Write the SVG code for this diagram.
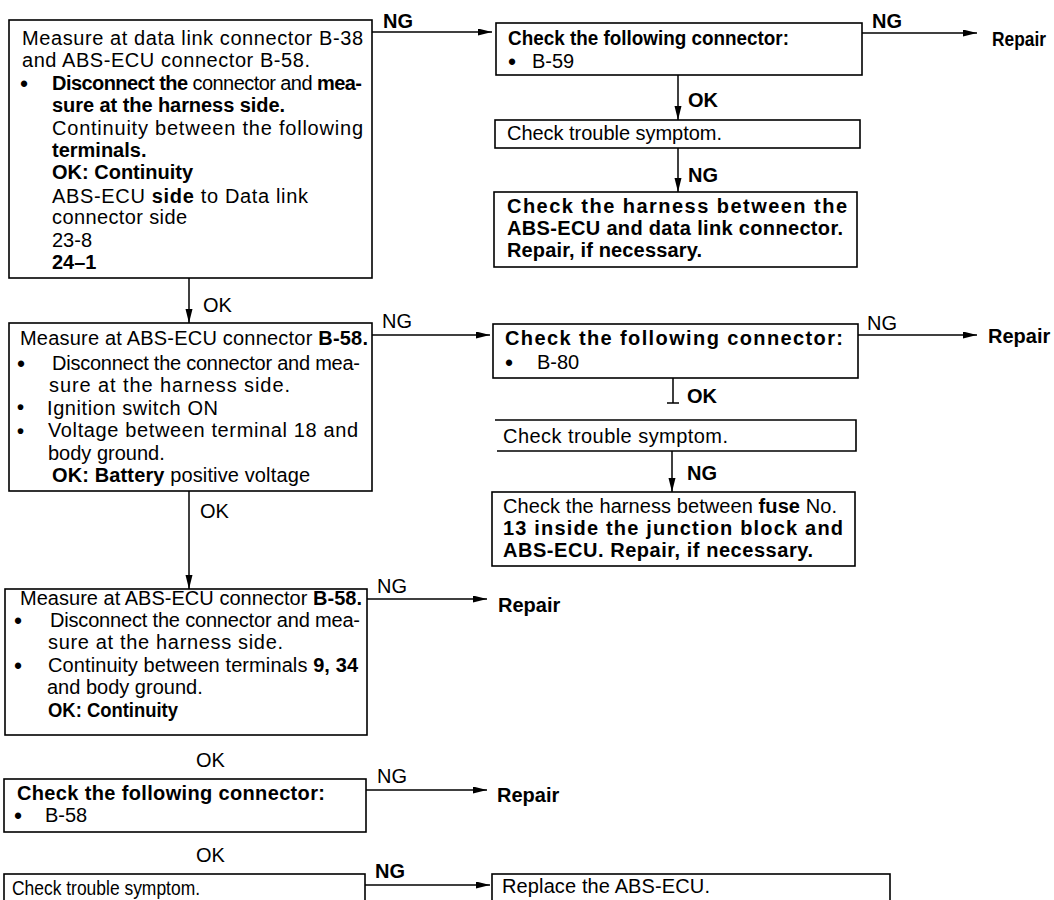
<svg xmlns="http://www.w3.org/2000/svg" width="1054" height="900" viewBox="0 0 1054 900">
<style>
.box{fill:none;stroke:#000;stroke-width:1.6}
.ln{fill:none;stroke:#000;stroke-width:1.5}
text{font-family:"Liberation Sans",Arial,Helvetica,sans-serif;font-size:20px;fill:#000}
.b{font-weight:bold}
.bu{font-size:23px}
.bs{font-size:20px;font-weight:bold}
</style>
<defs>
<marker id="ah" markerUnits="userSpaceOnUse" markerWidth="15" markerHeight="8" refX="14" refY="3.5" orient="auto">
<path d="M0,0 L14,3.5 L0,7 z" fill="#000"/>
</marker>
</defs>
<rect width="1054" height="900" fill="#fff"/>

<g id="connectors">
<line class="ln" x1="372" y1="32" x2="492" y2="32" marker-end="url(#ah)"/>
<line class="ln" x1="862" y1="33" x2="977" y2="33" marker-end="url(#ah)"/>
<line class="ln" x1="678" y1="75" x2="678" y2="120" marker-end="url(#ah)"/>
<line class="ln" x1="678" y1="148" x2="678" y2="192" marker-end="url(#ah)"/>
<line class="ln" x1="189" y1="278" x2="189" y2="323" marker-end="url(#ah)"/>
<line class="ln" x1="372" y1="335" x2="490" y2="335" marker-end="url(#ah)"/>
<line class="ln" x1="858" y1="335" x2="977" y2="335" marker-end="url(#ah)"/>
<path class="ln" d="M673,378 V403 M667,403 H679"/>
<line class="ln" x1="672" y1="451" x2="672" y2="492" marker-end="url(#ah)"/>
<line class="ln" x1="189" y1="491" x2="189" y2="589" marker-end="url(#ah)"/>
<line class="ln" x1="367" y1="599" x2="487" y2="599" marker-end="url(#ah)"/>
<line class="ln" x1="366" y1="790" x2="487" y2="790" marker-end="url(#ah)"/>
<line class="ln" x1="365" y1="885" x2="490" y2="885" marker-end="url(#ah)"/>
<text class="b" x="383" y="28">NG</text>
<text class="b" x="872" y="28">NG</text>
<text class="b" x="688" y="107">OK</text>
<text class="b" x="688" y="182">NG</text>
<text x="203" y="312">OK</text>
<text x="382" y="328">NG</text>
<text x="867" y="330">NG</text>
<text class="b" x="687" y="403">OK</text>
<text class="b" x="687" y="480">NG</text>
<text x="200" y="518">OK</text>
<text x="377" y="593">NG</text>
<text x="196" y="767">OK</text>
<text x="377" y="783">NG</text>
<text x="196" y="862">OK</text>
<text class="b" x="375" y="878">NG</text>
</g>

<g id="n1">
<rect class="box" x="9" y="20" width="363" height="258"/>
<text x="22" y="45" textLength="341" lengthAdjust="spacing">Measure at data link connector B-38</text>
<text x="22" y="67" textLength="288" lengthAdjust="spacing">and ABS-ECU connector B-58.</text>
<text class="bu" x="20" y="92">•</text>
<text x="52" y="90" textLength="310" lengthAdjust="spacing"><tspan class="b">Disconnect the</tspan> connector and <tspan class="b">mea-</tspan></text>
<text class="b" x="52" y="112" textLength="233" lengthAdjust="spacing">sure at the harness side.</text>
<text x="52" y="135" textLength="311" lengthAdjust="spacing">Continuity between the following</text>
<text class="b" x="52" y="157">terminals.</text>
<text class="b" x="52" y="179">OK: Continuity</text>
<text x="52" y="203" textLength="256" lengthAdjust="spacing">ABS-ECU <tspan class="b">side</tspan> to Data link</text>
<text x="52" y="224" textLength="135" lengthAdjust="spacing">connector side</text>
<text x="52" y="247">23-8</text>
<text class="b" x="52" y="269">24–1</text>
</g>

<g id="n2">
<rect class="box" x="496" y="23" width="366" height="52"/>
<text class="b" x="508" y="45" textLength="281" lengthAdjust="spacingAndGlyphs">Check the following connector:</text>
<text class="bu" x="508" y="70">•</text>
<text x="532" y="68">B-59</text>
</g>

<g id="n3">
<text class="b" x="992" y="46" textLength="54" lengthAdjust="spacingAndGlyphs">Repair</text>
</g>

<g id="n4">
<rect class="box" x="495" y="120" width="365" height="28"/>
<text x="507" y="140" textLength="215" lengthAdjust="spacing">Check trouble symptom.</text>
</g>

<g id="n5">
<rect class="box" x="494" y="192" width="363" height="75"/>
<text class="b" x="507" y="213" textLength="340" lengthAdjust="spacing">Check the harness between the</text>
<text class="b" x="507" y="235" textLength="336" lengthAdjust="spacing">ABS-ECU and data link connector.</text>
<text class="b" x="507" y="257" textLength="195" lengthAdjust="spacing">Repair, if necessary.</text>
</g>

<g id="n6">
<rect class="box" x="9" y="323" width="363" height="168"/>
<text x="20" y="345" textLength="348" lengthAdjust="spacing">Measure at ABS-ECU connector <tspan class="b">B-58.</tspan></text>
<text class="bu" x="17" y="372">•</text>
<text class="bs" x="17" y="414">•</text>
<text class="bs" x="17" y="438">•</text>
<text x="52" y="370" textLength="308" lengthAdjust="spacing">Disconnect the connector and mea-</text>
<text x="49" y="392" textLength="241" lengthAdjust="spacing">sure at the harness side.</text>
<text x="47" y="415" textLength="171" lengthAdjust="spacing">Ignition switch ON</text>
<text x="48" y="437" textLength="310" lengthAdjust="spacing">Voltage between terminal 18 and</text>
<text x="48" y="460">body ground.</text>
<text x="52" y="482" textLength="258" lengthAdjust="spacing"><tspan class="b">OK: Battery</tspan> positive voltage</text>
</g>

<g id="n7">
<rect class="box" x="493" y="324" width="365" height="54"/>
<text class="b" x="505" y="345" textLength="338" lengthAdjust="spacing">Check the following connector:</text>
<text class="bu" x="505" y="371">•</text>
<text x="537" y="369">B-80</text>
</g>

<g id="n8">
<text class="b" x="988" y="343">Repair</text>
</g>

<g id="n9">
<path class="box" d="M495,420 H856 V451 H497"/>
<text x="503" y="443" textLength="225" lengthAdjust="spacing">Check trouble symptom.</text>
</g>

<g id="n10">
<rect class="box" x="492" y="492" width="363" height="74"/>
<text x="503" y="513" textLength="334" lengthAdjust="spacing">Check the harness between <tspan class="b">fuse</tspan> No.</text>
<text class="b" x="503" y="535" textLength="340" lengthAdjust="spacing">13 inside the junction block and</text>
<text class="b" x="503" y="557" textLength="310" lengthAdjust="spacing">ABS-ECU. Repair, if necessary.</text>
</g>

<g id="n11">
<rect class="box" x="5" y="589" width="362" height="146"/>
<text x="20" y="605" textLength="342" lengthAdjust="spacing">Measure at ABS-ECU connector <tspan class="b">B-58.</tspan></text>
<text class="bu" x="14" y="629">•</text>
<text class="bu" x="14" y="674">•</text>
<text x="50" y="627" textLength="310" lengthAdjust="spacing">Disconnect the connector and mea-</text>
<text x="48" y="649" textLength="235" lengthAdjust="spacing">sure at the harness side.</text>
<text x="48" y="672" textLength="310" lengthAdjust="spacing">Continuity between terminals <tspan class="b">9, 34</tspan></text>
<text x="47" y="694">and body ground.</text>
<text class="b" x="48" y="717" textLength="130" lengthAdjust="spacingAndGlyphs">OK: Continuity</text>
</g>

<g id="n12">
<text class="b" x="498" y="612">Repair</text>
</g>

<g id="n13">
<rect class="box" x="4" y="779" width="362" height="53"/>
<text class="b" x="17" y="800" textLength="308" lengthAdjust="spacing">Check the following connector:</text>
<text class="bu" x="14" y="824">•</text>
<text x="45" y="822">B-58</text>
</g>

<g id="n14">
<text class="b" x="497" y="802">Repair</text>
</g>

<g id="n15">
<rect class="box" x="4" y="874" width="361" height="40"/>
<text x="12" y="895" textLength="188" lengthAdjust="spacingAndGlyphs">Check trouble symptom.</text>
</g>

<g id="n16">
<rect class="box" x="492" y="874" width="398" height="40"/>
<text x="502" y="893" textLength="208" lengthAdjust="spacing">Replace the ABS-ECU.</text>
</g>
</svg>
